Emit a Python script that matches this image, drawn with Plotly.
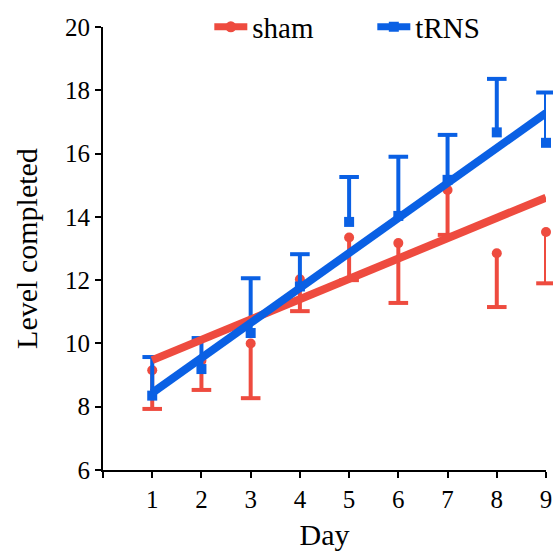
import numpy as np
import plotly.graph_objects as go

days = [1, 2, 3, 4, 5, 6, 7, 8, 9]
sham_mean = [9.15, 9.45, 10.0, 12.03, 13.35, 13.17, 14.85, 12.85, 13.52]
sham_err_down = [1.22, 0.92, 1.73, 1.01, 1.35, 1.89, 1.42, 1.70, 1.62]
trns_mean = [8.35, 9.19, 10.33, 11.8, 13.84, 14.03, 15.17, 16.67, 16.34]
trns_err_up = [1.22, 0.98, 1.73, 1.02, 1.42, 1.87, 1.42, 1.69, 1.59]
x_ticks = [0, 1, 2, 3, 4, 5, 6, 7, 8, 9]
x_tick_labels = ["", "1", "2", "3", "4", "5", "6", "7", "8", "9"]
y_ticks = [6, 8, 10, 12, 14, 16, 18, 20]

RED = "#EE4B3F"
BLUE = "#0A60E4"
FONT = "Liberation Serif"

def fit(x, y):
    b, a = np.polyfit(x, y, 1)
    return [a + b * d for d in x]

sham_low = [m - e for m, e in zip(sham_mean, sham_err_down)]
trns_high = [m + e for m, e in zip(trns_mean, trns_err_up)]

fig = go.Figure()

# error-bar stems (no caps), caps drawn only at the far end
fig.add_trace(go.Scatter(
    x=days, y=sham_mean, mode="markers", showlegend=False, cliponaxis=False,
    marker=dict(symbol="circle", size=10, color=RED),
    error_y=dict(type="data", symmetric=False, array=[0] * 9, arrayminus=sham_err_down,
                 color=RED, thickness=4, width=0)))
fig.add_trace(go.Scatter(
    x=days, y=sham_low, mode="markers", showlegend=False, cliponaxis=False,
    marker=dict(symbol="line-ew", size=14, line=dict(color=RED, width=4))))
fig.add_trace(go.Scatter(
    x=days, y=trns_mean, mode="markers", showlegend=False, cliponaxis=False,
    marker=dict(symbol="square", size=10, color=BLUE),
    error_y=dict(type="data", symmetric=False, array=trns_err_up, arrayminus=[0] * 9,
                 color=BLUE, thickness=4, width=0)))
fig.add_trace(go.Scatter(
    x=days, y=trns_high, mode="markers", showlegend=False, cliponaxis=False,
    marker=dict(symbol="line-ew", size=14, line=dict(color=BLUE, width=4))))

# regression lines
fig.add_trace(go.Scatter(x=days, y=fit(days, sham_mean), mode="lines", showlegend=False,
                         cliponaxis=False, line=dict(color=RED, width=8)))
fig.add_trace(go.Scatter(x=days, y=fit(days, trns_mean), mode="lines", showlegend=False,
                         cliponaxis=False, line=dict(color=BLUE, width=8)))

# legend entries
fig.add_trace(go.Scatter(x=[None], y=[None], mode="lines+markers", name="sham",
                         line=dict(color=RED, width=7),
                         marker=dict(symbol="circle", size=11, color=RED)))
fig.add_trace(go.Scatter(x=[None], y=[None], mode="lines+markers", name="tRNS",
                         line=dict(color=BLUE, width=7),
                         marker=dict(symbol="square", size=10, color=BLUE)))

fig.update_layout(
    template="none",
    width=553, height=553,
    margin=dict(l=103, r=7, t=27, b=83, autoexpand=False),
    paper_bgcolor="white", plot_bgcolor="white",
    font=dict(family=FONT, size=25, color="black"),
    legend=dict(orientation="h", x=0.24, xanchor="left", y=1.0, yanchor="middle",
                bgcolor="rgba(0,0,0,0)", borderwidth=0,
                font=dict(family=FONT, size=29, color="black"), itemwidth=33,
                entrywidth=115),
    xaxis=dict(range=[0, 9], tickvals=x_ticks, ticktext=x_tick_labels,
               showline=True, linecolor="black", linewidth=2, mirror=False,
               ticks="outside", ticklen=6, tickwidth=2, tickcolor="black",
               showgrid=False, zeroline=False, automargin=False,
               title=dict(text="Day", standoff=12, font=dict(family=FONT, size=30)),
               tickfont=dict(family=FONT, size=25, color="black")),
    yaxis=dict(range=[6, 20], tickvals=y_ticks, ticktext=[str(v) for v in y_ticks],
               showline=True, linecolor="black", linewidth=2, mirror=False,
               ticks="outside", ticklen=6, tickwidth=2, tickcolor="black",
               showgrid=False, zeroline=False, automargin=False,
               title=dict(text="Level completed", standoff=19, font=dict(family=FONT, size=30)),
               tickfont=dict(family=FONT, size=25, color="black")),
)

fig.write_html("out.html", config={"displayModeBar": False},
               post_script="document.body.style.margin='0';document.body.style.overflow='hidden';")
